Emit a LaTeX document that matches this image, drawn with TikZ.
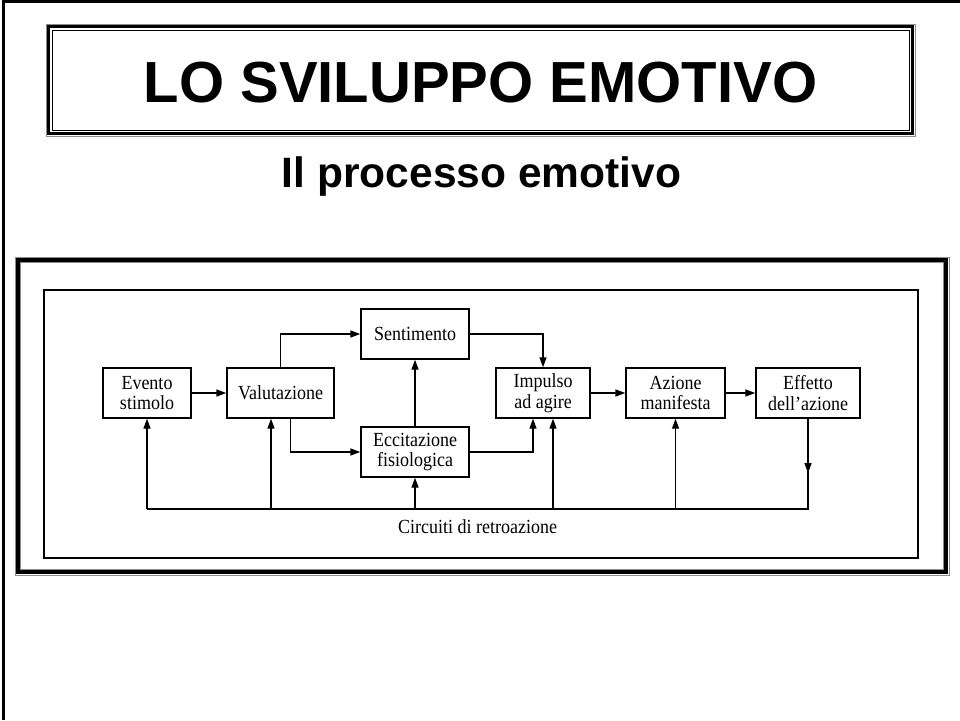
\documentclass[tikz,border=0pt]{standalone}
\usepackage{fontspec}
\setmainfont{Liberation Serif}
\newfontfamily\diafont[FakeStretch=0.9]{Liberation Serif}
\newfontfamily\headfont{Liberation Sans}
\usetikzlibrary{arrows.meta}
\begin{document}
\begin{tikzpicture}[x=1pt,y=-1pt,
  box/.style={draw,line width=1.4pt,align=center,inner sep=0pt,
    font=\diafont\fontsize{20}{20.5}\selectfont,minimum height=50pt},
  arr/.style={line width=1.4pt,-{Triangle[length=10pt,width=7pt]}},
  ln/.style={line width=1.4pt},
  thinframe/.style={draw=black!45,line width=0.8pt}]
\useasboundingbox (0,0) rectangle (960,720);
\fill[white] (0,0) rectangle (960,720);
% page border
\draw[line width=3pt] (3.5,720) -- (3.5,1.5) -- (960,1.5);
% title frame
\draw[thinframe] (46,24) rectangle (915,136);
\draw[line width=2.5pt] (48.5,26.5) rectangle (912.5,133.5);
\draw[line width=0.8pt] (52,30) rectangle (909,130);
\node[font=\headfont\bfseries\fontsize{58}{60}\selectfont,anchor=base,inner sep=0pt] (title) at (480.5,102) {LO SVILUPPO EMOTIVO};
\node[font=\headfont\bfseries\fontsize{42.5}{44}\selectfont,anchor=base,inner sep=0pt] (sub) at (481.5,187) {Il processo emotivo};
% diagram frame
\draw[thinframe] (15,257) rectangle (949,575);
\draw[line width=3.2pt] (18,260) rectangle (946,572);
\draw[thinframe] (20.5,262.5) rectangle (943.5,569.5);
\draw[line width=2pt] (44,290) rectangle (918,558);
% boxes
\node[box,minimum width=88pt] (ev) at (147,393) {Evento\\stimolo};
\node[box,minimum width=107pt] (val) at (280.5,393) {Valutazione};
\node[box,minimum width=108pt] (sen) at (415,334) {Sentimento};
\node[box,minimum width=108pt] (ecc) at (415,452) {Eccitazione\\fisiologica};
\node[box,minimum width=94pt] (imp) at (543,393) {Impulso\\ad agire};
\node[box,minimum width=99pt] (azi) at (675.5,393) {Azione\\manifesta};
\node[box,minimum width=104pt] (eff) at (808,393) {Effetto\\dell’azione};
% connectors
\draw[arr] (ev) -- (val);
\draw[arr] (val.north) |- (sen.west);
\draw[arr] ([xshift=10pt]val.south) |- (ecc.west);
\draw[arr] (ecc) -- (sen);
\draw[arr] (sen.east) -| (imp.north);
\draw[arr] (ecc.east) -| ([xshift=-10pt]imp.south);
\draw[arr] (imp) -- (azi);
\draw[arr] (azi) -- (eff);
% feedback
\coordinate (fr) at (808,509);
\coordinate (fl) at (ev.south |- fr);
\coordinate (dm) at (808,473);
\draw[ln] (eff.south) -- (fr) -- (fl);
\draw[arr] (eff.south) -- (dm);
\draw[arr] (fl) -- (ev.south);
\coordinate (f2) at ([xshift=-9.5pt]val.south |- fr);
\draw[arr] (f2) -- ([xshift=-9.5pt]val.south);
\coordinate (f3) at (ecc.south |- fr);
\draw[arr] (f3) -- (ecc.south);
\coordinate (f4) at ([xshift=10pt]imp.south |- fr);
\draw[arr] (f4) -- ([xshift=10pt]imp.south);
\coordinate (f5) at (azi.south |- fr);
\draw[arr] (f5) -- (azi.south);
\node[font=\diafont\fontsize{20}{20}\selectfont,anchor=base,inner sep=0pt] (circ) at (477.5,533) {Circuiti di retroazione};
\end{tikzpicture}
\end{document}
